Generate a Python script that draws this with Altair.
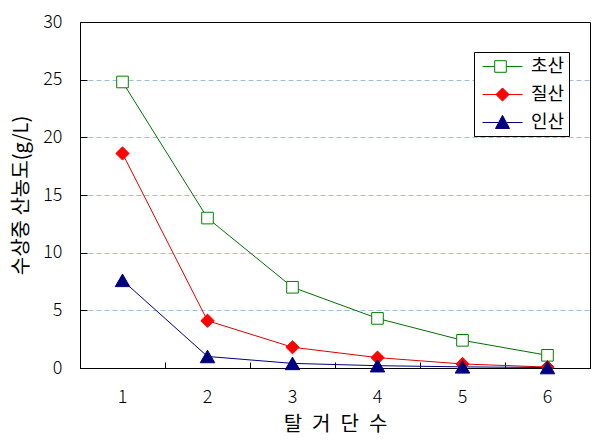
import altair as alt
import pandas as pd

stages = [1, 2, 3, 4, 5, 6]
series_names = ["초산", "질산", "인산"]
acetic = [24.8, 13.0, 7.0, 4.3, 2.4, 1.1]
nitric = [18.6, 4.1, 1.8, 0.9, 0.35, 0.08]
phosphoric = [7.6, 1.0, 0.4, 0.2, 0.1, 0.04]
y_ticks = [0, 5, 10, 15, 20, 25, 30]

rows = []
for name, vals in zip(series_names, [acetic, nitric, phosphoric]):
    for s, v in zip(stages, vals):
        rows.append({"stage": s, "series": name, "value": v})
df = pd.DataFrame(rows)

W, H = 510, 346
FONT = "Noto Sans CJK KR"

line_colors = {"초산": "#007000", "질산": "#e00000", "인산": "#000080"}
markers = {
    "초산": dict(shape="square", fill="white", stroke="#008000", size=135),
    "질산": dict(shape="diamond", fill="#ff0000", stroke="#ff0000", size=175),
    "인산": dict(shape="triangle-up", fill="#000080", stroke="#000080", size=210),
}

x_scale = alt.Scale(type="band", domain=stages, paddingInner=0, paddingOuter=0)
y_scale = alt.Scale(domain=[0, 30], nice=False, zero=True)

x_main = alt.Axis(
    title="탈\u2002거\u2002단\u2002수", labelAngle=0, ticks=False, domain=True,
    domainColor="black", grid=False, labelPadding=20, labelFontSize=18,
    labelFontWeight=300,
    labelFont=FONT, labelColor="black", titleFont=FONT, titleFontSize=20,
    titleFontWeight="normal", titleColor="black", titleX=W / 2, titleY=56,
    titleBaseline="middle",
)
x_tick_axis = alt.Axis(
    orient="top", offset=-H, labels=False, domain=False, ticks=True,
    tickSize=6, tickBand="extent", tickColor="black", grid=False, title=None,
)
y_main = alt.Axis(
    values=y_ticks, ticks=False, labelPadding=18, labelFontSize=18,
    labelFontWeight=300,
    labelFont=FONT, labelColor="black", domain=True, domainColor="black",
    grid=True, gridDash=[5, 3],
    gridColor={"condition": {"test": "datum.value === 0 || datum.value === 30",
                             "value": "transparent"}, "value": "#9fc0dc"},
    title="수상중 산농도(g/L)", titleFont=FONT, titleFontSize=20,
    titleFontWeight="normal", titleColor="black", titleAngle=270,
    titleX=-59, titleY=H / 2, titleBaseline="middle",
)
y_tick_axis = alt.Axis(
    orient="right", offset=-W, values=y_ticks, labels=False, domain=False,
    ticks=True, tickSize=7, tickColor="black", grid=False, title=None,
)

layers = []
first = True
for name in series_names:
    sub = df[df.series == name]
    layers.append(
        alt.Chart(sub).mark_line(color=line_colors[name], strokeWidth=1).encode(
            x=alt.X("stage:O", scale=x_scale, bandPosition=0.5,
                    axis=x_main if first else None),
            y=alt.Y("value:Q", scale=y_scale, axis=y_main if first else None),
        )
    )
    first = False

for i, name in enumerate(series_names):
    sub = df[df.series == name]
    m = markers[name]
    layers.append(
        alt.Chart(sub).mark_point(
            shape=m["shape"], fill=m["fill"], stroke=m["stroke"], size=m["size"],
            opacity=1, fillOpacity=1, strokeWidth=1,
        ).encode(
            x=alt.X("stage:O", scale=x_scale, bandPosition=0.5,
                    axis=x_tick_axis if i == 0 else None),
            y=alt.Y("value:Q", scale=y_scale, axis=y_tick_axis if i == 0 else None),
        )
    )

# legend symbols: unit = 10 px; line through marker, shifted right of symbol box
path_sq = "M-0.6,0H0.62M1.78,0H3.4M0.62,-0.58H1.78V0.58H0.62Z"
path_dm = "M-0.6,0H3.4M1.4,-0.66L2.06,0L1.4,0.66L0.74,0Z"
path_tr = "M-0.6,0H3.4M1.4,-0.72L2.1,0.6L0.7,0.6Z"

legend_layer = alt.Chart(df).transform_filter("datum.value < 0").mark_point(
    opacity=1, fillOpacity=1, strokeWidth=1
).encode(
    x=alt.X("stage:O", scale=x_scale, axis=None),
    y=alt.Y("value:Q", scale=y_scale, axis=None),
    shape=alt.Shape("series:N", scale=alt.Scale(domain=series_names,
                    range=[path_sq, path_dm, path_tr]),
                    legend=alt.Legend(
                        title=None, orient="none", legendX=394, legendY=30,
                        strokeColor="black", fillColor="white", padding=4,
                        symbolSize=400, symbolStrokeWidth=1, labelFont=FONT,
                        labelFontSize=18, labelColor="black", labelOffset=32,
                        rowPadding=8, cornerRadius=0,
                    )),
    fill=alt.Fill("series:N", scale=alt.Scale(domain=series_names,
                  range=["white", "#ff0000", "#000080"])),
    stroke=alt.Stroke("series:N", scale=alt.Scale(domain=series_names,
                      range=["#008000", "#ff0000", "#000080"])),
)
layers.append(legend_layer)

chart = alt.layer(*layers).resolve_axis(x="independent", y="independent").properties(
    width=W, height=H,
    autosize=alt.AutoSizeParams(type="none"),
    padding={"left": 80, "top": 22, "right": 15, "bottom": 78},
    background="white",
).configure_view(stroke="black", strokeWidth=1)

chart.save("out.html", embed_options={"renderer": "svg", "actions": False})
